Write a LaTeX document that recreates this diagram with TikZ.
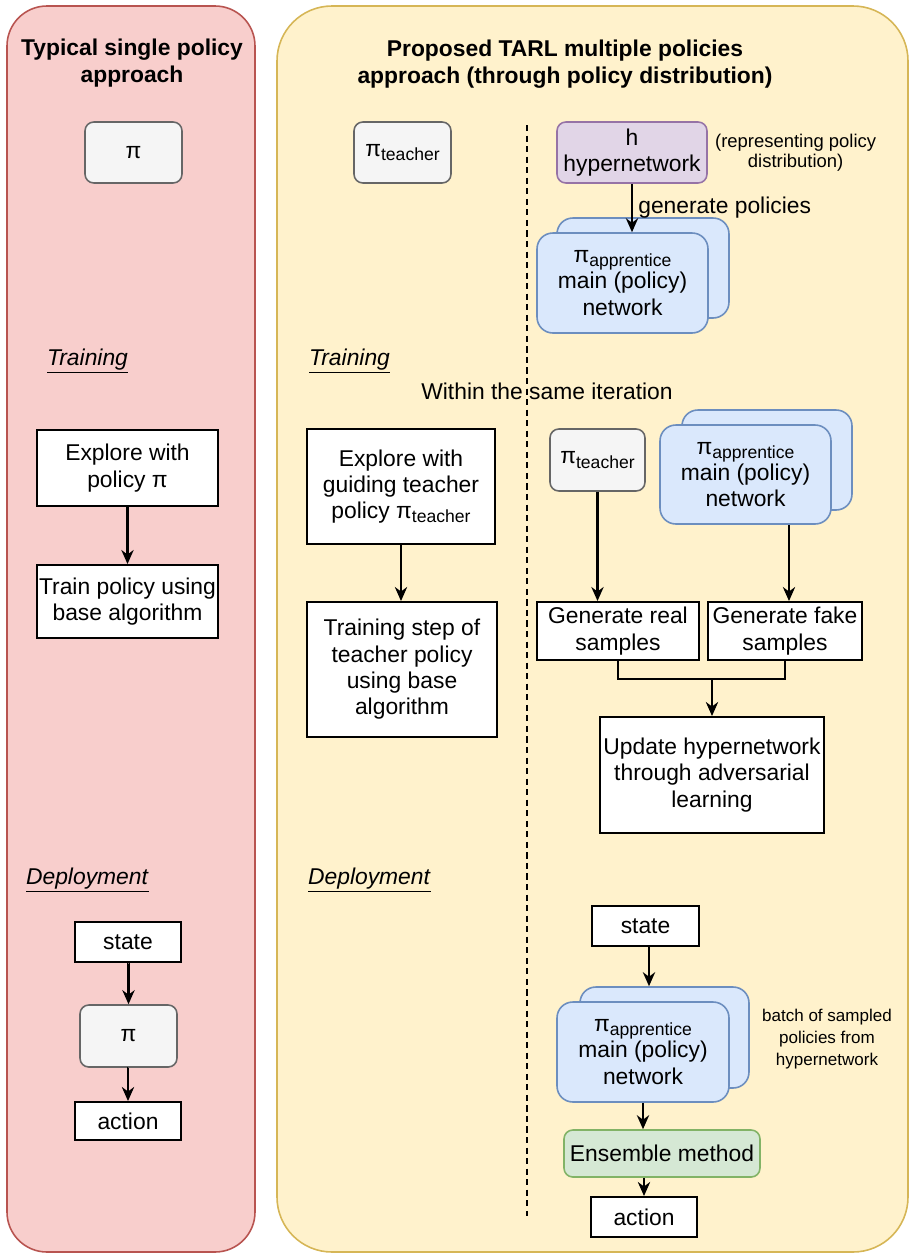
\documentclass[tikz,border=0pt]{standalone}
\usepackage{fontspec}
\setmainfont{Liberation Sans}
\usepackage{tikz}
\usetikzlibrary{arrows.meta, positioning}

\definecolor{redfill}{HTML}{F8CECC}
\definecolor{redline}{HTML}{B85450}
\definecolor{yelfill}{HTML}{FFF2CC}
\definecolor{yelline}{HTML}{D6B656}
\definecolor{greyfill}{HTML}{F5F5F5}
\definecolor{greyline}{HTML}{666666}
\definecolor{purpfill}{HTML}{E1D5E7}
\definecolor{purpline}{HTML}{9673A6}
\definecolor{bluefill}{HTML}{DAE8FC}
\definecolor{blueline}{HTML}{6C8EBF}
\definecolor{greenfill}{HTML}{D5E8D4}
\definecolor{greenline}{HTML}{82B366}

\newcommand{\polsub}[1]{\raisebox{-0.35ex}{\fontsize{10}{10}\selectfont #1}}

\begin{document}
\begin{tikzpicture}[x=0.02cm, y=-0.02cm,
		every node/.style={font=\fontsize{13}{15}\selectfont, align=center, inner sep=1pt},
		wh/.style 2 args={minimum width=#1cm, minimum height=#2cm},
		plain/.style={draw, fill=white, line width=1.1pt},
		grey/.style={draw=greyline, fill=greyfill, rounded corners=5pt, line width=0.9pt},
		hyper/.style={draw=purpline, fill=purpfill, rounded corners=5pt, line width=0.9pt},
		pol/.style={draw=blueline, fill=bluefill, rounded corners=9pt, line width=0.9pt},
		ensbox/.style={draw=greenline, fill=greenfill, rounded corners=5pt, line width=0.9pt},
		title/.style={font=\bfseries\fontsize{13}{15}\selectfont},
		phase/.style={anchor=west},
		note/.style={font=\fontsize{10.5}{11.3}\selectfont},
		arr/.style={-{Stealth[length=8pt,width=7pt]}, line width=1.2pt}]
	\useasboundingbox (0,0) rectangle (910,1254);

	% panels
	\draw[draw=redline, fill=redfill, rounded corners=0.8cm, line width=0.9pt] (7,6) rectangle (255,1252);
	\draw[draw=yelline, fill=yelfill, rounded corners=1.1cm, line width=0.9pt] (277,6) rectangle (908,1252);
	\coordinate (dtop) at (527,125);
	\coordinate (dbot) at (527,1216);
	\draw[dash pattern=on 3.5pt off 2.5pt, line width=0.9pt] (dtop) -- (dbot);

	\node[title] (tl) at (132,63) {Typical single policy\\approach};
	\node[title] (tr) at (565,64) {Proposed TARL multiple policies\\approach (through policy distribution)};

	% single policy
	\node[grey, wh={1.94}{1.22}] (pil) at (133.5,152.5) {π};
	\node[phase] (trnl) at (45,361) {\underline{\textit{Training}}};
	\node[plain, wh={3.62}{1.52}] (exl) at (127.5,468) {Explore with\\policy π};
	\node[plain, wh={3.62}{1.46}] (upl) at (127.5,601.5) {Train policy using\\base algorithm};
	\node[phase] (depl) at (24,880) {\underline{\textit{Deployment}}};
	\node[plain, wh={2.12}{0.8}]  (stl) at (128,942) {state};
	\node[grey, wh={1.94}{1.24}]  (pdl) at (128.5,1036) {π};
	\node[plain, wh={2.12}{0.76}] (acl) at (128,1121) {action};

	% TARL, teacher side
	\node[grey, wh={1.94}{1.22}] (pit) at (402.5,152.5) {π\polsub{teacher}};
	\node[phase] (trnr) at (307,361) {\underline{\textit{Training}}};
	\node (iter) at (547,391) {Within the same iteration};
	\node[plain, wh={3.76}{2.3}] (ext) at (401,486.5) {Explore with\\guiding teacher\\policy π\polsub{teacher}};
	\node[plain, wh={3.8}{2.7}]  (tst) at (402,669.5) {Training step of\\teacher policy\\using base\\algorithm};
	\node[phase] (depr) at (306,880) {\underline{\textit{Deployment}}};

	% TARL, apprentice side
	\node[hyper, wh={3.0}{1.22}] (hyp) at (632,152.5) {h\\hypernetwork};
	\node[note, right=3pt of hyp] (hypn) {(representing policy\\distribution)};
	\node[pol, wh={3.44}{2.0}] (ap1b) at (643,268) {};
	\node[pol, wh={3.42}{2.0}] (ap1)  at (622.5,283) {π\polsub{apprentice}\\main (policy)\\network};

	\node[grey, wh={1.9}{1.24}] (pim) at (597.5,460) {π\polsub{teacher}};
	\node[pol, wh={3.4}{2.0}]   (ap2b) at (767,460) {};
	\node[pol, wh={3.42}{1.98}] (ap2)  at (745.5,474.5) {π\polsub{apprentice}\\main (policy)\\network};
	\node[plain, wh={3.24}{1.16}] (real) at (618,631) {Generate real\\samples};
	\node[plain, wh={3.08}{1.16}] (fake) at (785,631) {Generate fake\\samples};
	\node[plain, wh={4.48}{2.32}] (upd)  at (712,775) {Update hypernetwork\\through adversarial\\learning};
	\coordinate (jn) at (712,679);

	\node[plain, wh={2.14}{0.8}] (str) at (645.5,926) {state};
	\node[pol, wh={3.38}{2.02}] (ap3b) at (664.5,1037.5) {};
	\node[pol, wh={3.44}{2.0}]  (ap3)  at (643,1052) {π\polsub{apprentice}\\main (policy)\\network};
	\node[note, font=\fontsize{9.7}{12.5}\selectfont] (batn) at (827,1039) {batch of sampled\\policies from\\hypernetwork};
	\node[ensbox, wh={3.92}{0.94}] (ens) at (662,1153.5) {Ensemble method};
	\node[plain, wh={2.12}{0.8}] (acr) at (644,1217) {action};

	% connectors
	\foreach \from/\to in {exl/upl, stl/pdl, pdl/acl}
		\draw[arr] (\from) -- (\to |- \from.south) -- (\to);
	\draw[arr] (ext) -- (ext |- tst.north);
	\draw[arr] (hyp) -- (hyp |- ap1.north) node[midway, right=2pt] (genl) {generate policies};
	\draw[arr] (pim) -- (pim |- real.north);
	\draw[arr] (ap2.south -| 789,0) -- (real.north -| 789,0);
	\draw[line width=1.1pt] (real.south) |- (jn) -| (fake.south);
	\draw[arr] (jn) -- (upd.north);
	\draw[arr] (str.south -| 649,0) -- (ap3b.north -| 649,0);
	\draw[arr] (ap3.south) -- (ap3.south |- ens.north);
	\draw[arr] (acr.north |- ens.south) -- (acr.north);
\end{tikzpicture}
\end{document}
